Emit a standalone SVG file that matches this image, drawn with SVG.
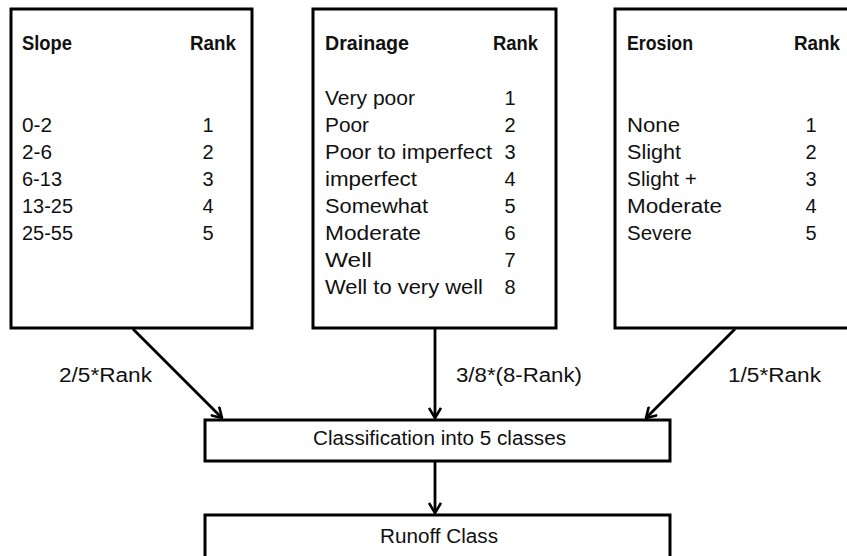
<svg xmlns="http://www.w3.org/2000/svg" width="847" height="556" viewBox="0 0 847 556">
  <style>
    .box { fill: #fff; stroke: #000; stroke-width: 3; }
    .t { font-family: "Liberation Sans", Arial, sans-serif; font-size: 20px; fill: #111; }
    .h { font-weight: bold; }
    .c { text-anchor: middle; }
    .conn { stroke: #000; stroke-width: 2.8; fill: none; marker-end: url(#arr); }
  </style>
  <defs>
    <marker id="arr" viewBox="0 0 12 14" refX="11" refY="7" markerWidth="12" markerHeight="14" markerUnits="userSpaceOnUse" orient="auto">
      <path d="M1,1 L11,7 L1,13" fill="none" stroke="#000" stroke-width="2.6" stroke-linejoin="miter"/>
    </marker>
  </defs>
  <rect width="847" height="556" fill="#fff"/>

  <g id="slope">
    <rect class="box" x="11" y="9" width="241" height="319"/>
    <text class="t h" x="22" y="50" textLength="50" lengthAdjust="spacingAndGlyphs">Slope</text>
    <text class="t h" x="190" y="50" textLength="46" lengthAdjust="spacingAndGlyphs">Rank</text>
    <text class="t" x="22" y="132" textLength="30" lengthAdjust="spacingAndGlyphs">0-2</text>
    <text class="t" x="22" y="159" textLength="30" lengthAdjust="spacingAndGlyphs">2-6</text>
    <text class="t" x="22" y="186" textLength="40" lengthAdjust="spacingAndGlyphs">6-13</text>
    <text class="t" x="22" y="213" textLength="51" lengthAdjust="spacingAndGlyphs">13-25</text>
    <text class="t" x="22" y="240" textLength="51" lengthAdjust="spacingAndGlyphs">25-55</text>
    <text class="t c" x="208" y="132">1</text>
    <text class="t c" x="208" y="159">2</text>
    <text class="t c" x="208" y="186">3</text>
    <text class="t c" x="208" y="213">4</text>
    <text class="t c" x="208" y="240">5</text>
  </g>

  <g id="drainage">
    <rect class="box" x="313" y="9" width="243" height="319"/>
    <text class="t h" x="325" y="50" textLength="84" lengthAdjust="spacingAndGlyphs">Drainage</text>
    <text class="t h" x="493" y="50" textLength="45" lengthAdjust="spacingAndGlyphs">Rank</text>
    <text class="t" x="325" y="105" textLength="90" lengthAdjust="spacingAndGlyphs">Very poor</text>
    <text class="t" x="325" y="132" textLength="44" lengthAdjust="spacingAndGlyphs">Poor</text>
    <text class="t" x="325" y="159" textLength="167" lengthAdjust="spacingAndGlyphs">Poor to imperfect</text>
    <text class="t" x="325" y="186" textLength="92" lengthAdjust="spacingAndGlyphs">imperfect</text>
    <text class="t" x="325" y="213" textLength="103" lengthAdjust="spacingAndGlyphs">Somewhat</text>
    <text class="t" x="325" y="240" textLength="96" lengthAdjust="spacingAndGlyphs">Moderate</text>
    <text class="t" x="325" y="267" textLength="47" lengthAdjust="spacingAndGlyphs">Well</text>
    <text class="t" x="325" y="294" textLength="158" lengthAdjust="spacingAndGlyphs">Well to very well</text>
    <text class="t c" x="510" y="105">1</text>
    <text class="t c" x="510" y="132">2</text>
    <text class="t c" x="510" y="159">3</text>
    <text class="t c" x="510" y="186">4</text>
    <text class="t c" x="510" y="213">5</text>
    <text class="t c" x="510" y="240">6</text>
    <text class="t c" x="510" y="267">7</text>
    <text class="t c" x="510" y="294">8</text>
  </g>

  <g id="erosion">
    <rect class="box" x="615" y="9" width="250" height="319"/>
    <text class="t h" x="627" y="50" textLength="66" lengthAdjust="spacingAndGlyphs">Erosion</text>
    <text class="t h" x="794" y="50" textLength="46" lengthAdjust="spacingAndGlyphs">Rank</text>
    <text class="t" x="627" y="132" textLength="53" lengthAdjust="spacingAndGlyphs">None</text>
    <text class="t" x="627" y="159" textLength="54" lengthAdjust="spacingAndGlyphs">Slight</text>
    <text class="t" x="627" y="186" textLength="70" lengthAdjust="spacingAndGlyphs">Slight +</text>
    <text class="t" x="627" y="213" textLength="95" lengthAdjust="spacingAndGlyphs">Moderate</text>
    <text class="t" x="627" y="240" textLength="65" lengthAdjust="spacingAndGlyphs">Severe</text>
    <text class="t c" x="811" y="132">1</text>
    <text class="t c" x="811" y="159">2</text>
    <text class="t c" x="811" y="186">3</text>
    <text class="t c" x="811" y="213">4</text>
    <text class="t c" x="811" y="240">5</text>
  </g>

  <g id="classification">
    <rect class="box" x="205" y="420" width="465" height="41"/>
    <text class="t" x="313" y="445" textLength="253" lengthAdjust="spacingAndGlyphs">Classification into 5 classes</text>
  </g>

  <g id="runoff">
    <rect class="box" x="205" y="515" width="465" height="60"/>
    <text class="t" x="380" y="543" textLength="118" lengthAdjust="spacingAndGlyphs">Runoff Class</text>
  </g>

  <g id="connectors">
    <line class="conn" x1="133" y1="329" x2="222" y2="418"/>
    <line class="conn" x1="435" y1="329" x2="435" y2="418"/>
    <line class="conn" x1="735" y1="329" x2="646" y2="418"/>
    <line class="conn" x1="435" y1="462" x2="435" y2="513"/>
    <text class="t" x="59" y="382" textLength="93" lengthAdjust="spacingAndGlyphs">2/5*Rank</text>
    <text class="t" x="456" y="382" textLength="126" lengthAdjust="spacingAndGlyphs">3/8*(8-Rank)</text>
    <text class="t" x="728" y="382" textLength="93" lengthAdjust="spacingAndGlyphs">1/5*Rank</text>
  </g>
</svg>
